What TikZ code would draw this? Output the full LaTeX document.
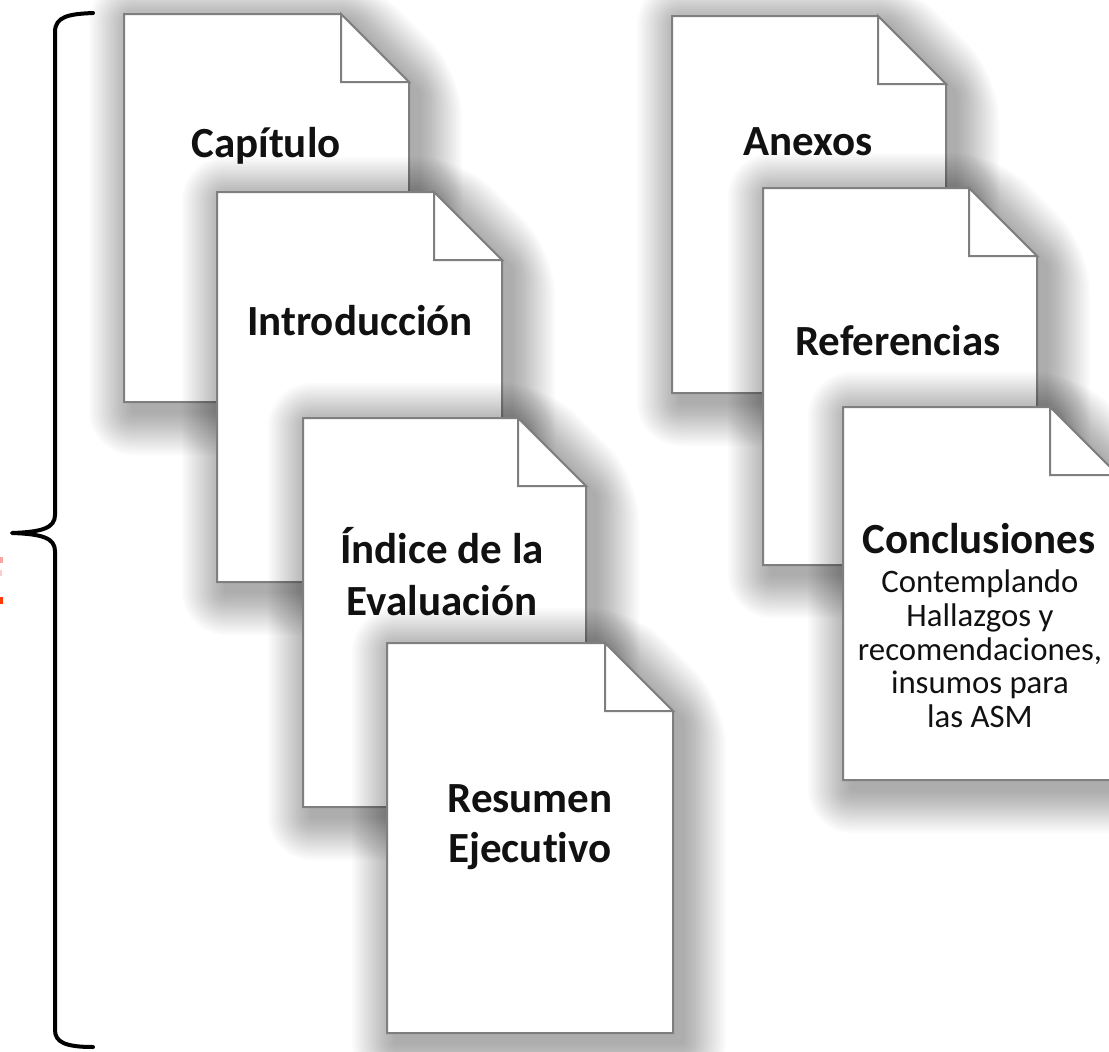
\documentclass[tikz,border=0pt]{standalone}
\usepackage{fontspec}
\setmainfont[Ligatures=NoCommon]{Carlito}
\definecolor{pagegray}{HTML}{7F7F7F}
\definecolor{txt}{HTML}{111111}
\tikzset{
  page/.style={draw=pagegray, line width=2pt, fill=white, line join=miter},
  foldline/.style={draw=pagegray, line width=2pt, fill=white, line join=miter},
  shadowlayer/.style={fill=black, fill opacity=0.016},
  title/.style={font=\bfseries\fontsize{43}{51}\selectfont, text=txt, anchor=base, align=center, inner sep=0pt},
  small/.style={font=\fontsize{32.8}{34}\selectfont, text=txt, anchor=base, align=center, inner sep=0pt},
  bracestyle/.style={draw=black, line width=4pt, line cap=round, line join=round},
}
\newcommand\pageshadow[4]{%
  \foreach \sd in {2,4,...,44} {%
    \path[shadowlayer, rounded corners={\sd pt}]
      ({#1+9-\sd},{#2+9-\sd}) -- ({#3-68+9+0.414*\sd},{#2+9-\sd})
      -- ({#3+9+\sd},{#2+68+9-0.414*\sd}) -- ({#3+9+\sd},{#4+9+\sd})
      -- ({#1+9-\sd},{#4+9+\sd}) -- cycle;
  }%
}
\newcommand\drawpage[4]{%
  \pageshadow{#1}{#2}{#3}{#4}%
  \path[page] (#1,#2) -- ({#3-68},#2) -- (#3,{#2+68}) -- (#3,#4) -- (#1,#4) -- cycle;
  \draw[foldline] ({#3-68},#2) -- ({#3-68},{#2+68}) -- (#3,{#2+68}) -- cycle;
}
\begin{document}
\begin{tikzpicture}[x=1pt,y=-1pt]
\useasboundingbox (0,0) rectangle (1109,1052);
\fill[white] (0,0) rectangle (1109,1052);
% brace
\draw[bracestyle] (93,13) .. controls (70,14) and (55,16) .. (55,32)
  -- (55,515) .. controls (55,528) and (42,532) .. (12,533)
  .. controls (42,534) and (55,538) .. (55,551)
  -- (55,1030) .. controls (55,1042) and (65,1047) .. (93,1047);
% cropped red label fragments at the left edge
\fill[red!35] (0,557) rectangle (2.5,563);
\fill[red!20] (0,570) rectangle (2,576);
\fill[red!55!orange] (0,597) rectangle (2.5,604);
% left stack
\drawpage{124}{14}{409}{402}
\node[title] (capitulo) at (266,157) {Capítulo};
\drawpage{217}{192}{502}{582}
\node[title] (intro) at (360,335) {Introducción};
\drawpage{303}{418}{586}{807}
\node[title] (indice1) at (442,563) {Índice de la};
\node[title] (indice2) at (442,615) {Evaluación};
\drawpage{387}{643}{673}{1033}
\node[title] (resumen1) at (530,812) {Resumen};
\node[title] (resumen2) at (530,862) {Ejecutivo};
% right stack
\drawpage{672}{16}{946}{393}
\node[title] (anexos) at (808,155) {Anexos};
\drawpage{763}{188}{1037}{565}
\node[title] (refs) at (898,355) {Referencias};
\drawpage{843}{407}{1118}{780}
\node[title] (concl) at (979,553) {Conclusiones};
\node[small] (c1) at (980,592) {Contemplando};
\node[small] (c2) at (980,626) {Hallazgos y};
\node[small] (c3) at (980,660) {recomendaciones,};
\node[small] (c4) at (980,693) {insumos para};
\node[small] (c5) at (980,727) {las ASM};
\end{tikzpicture}
\end{document}
